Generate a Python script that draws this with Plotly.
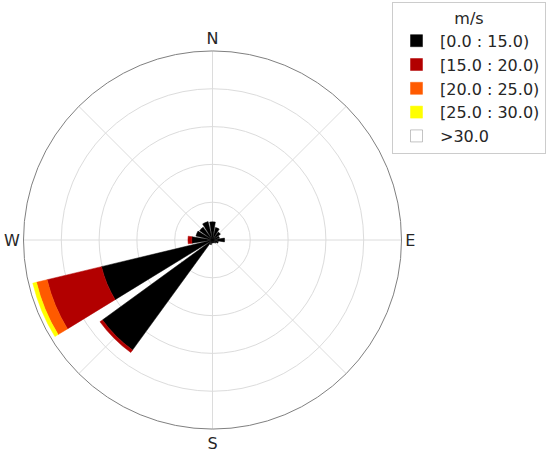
import plotly.graph_objects as go

directions = [0, 22.5, 45, 67.5, 90, 112.5, 135, 157.5, 180, 202.5, 225, 247.5, 270, 292.5, 315, 337.5]
bins = ["[0.0 : 15.0)", "[15.0 : 20.0)", "[20.0 : 25.0)", "[25.0 : 30.0)", ">30.0"]
freq_0_15 = [4.8, 3.4, 2.6, 1.9, 3.2, 1.6, 1.1, 0.8, 0.8, 1.3, 36.0, 30.2, 5.5, 4.5, 4.2, 5.0]
freq_15_20 = [0, 0, 0, 0, 0, 0, 0, 0, 0, 0, 0.8, 14.8, 1.0, 0, 0, 0]
freq_20_25 = [0, 0, 0, 0, 0, 0, 0, 0, 0, 0, 0, 2.9, 0, 0, 0, 0]
freq_25_30 = [0, 0, 0, 0, 0, 0, 0, 0, 0, 0, 0, 1.0, 0, 0, 0, 0]
freq_30 = [0] * 16
series = [freq_0_15, freq_15_20, freq_20_25, freq_25_30, freq_30]
colors = ["#000000", "#b20000", "#ff5a00", "#ffff00", "#ffffff"]
line_colors = ["#000000", "#b20000", "#ff5a00", "#ffff00", "#888888"]

fig = go.Figure()
for i, (name, vals, c, lc) in enumerate(zip(bins, series, colors, line_colors)):
    fig.add_trace(go.Barpolar(
        r=vals, theta=directions, width=[18] * 16, name=name,
        marker=dict(color=c, line=dict(color=lc, width=0.5)),
    ))

W, H = 550, 452
cx, cy, R = 212.5, 240, 189
fig.update_layout(
    width=W, height=H,
    margin=dict(l=0, r=0, t=0, b=0),
    paper_bgcolor="white",
    font=dict(family="DejaVu Sans", size=16, color="#262626"),
    polar=dict(
        domain=dict(x=[(cx - R) / W, (cx + R) / W], y=[1 - (cy + R) / H, 1 - (cy - R) / H]),
        bgcolor="white",
        barmode="stack",
        angularaxis=dict(
            direction="clockwise", rotation=90,
            tickmode="array",
            tickvals=[0, 45, 90, 135, 180, 225, 270, 315],
            ticktext=["N", "", "E", "", "S", "", "W", ""],
            showline=True, linecolor="#808080", linewidth=1,
            gridcolor="#dcdcdc", gridwidth=1,
            ticks="", tickfont=dict(size=16, color="#262626"),
        ),
        radialaxis=dict(
            range=[0, 50], tickvals=[10, 20, 30, 40],
            showticklabels=False, ticks="", showline=False,
            gridcolor="#dcdcdc", gridwidth=1,
        ),
    ),
    legend=dict(
        x=392 / W, y=1 - 2 / H, xanchor="left", yanchor="top",
        bordercolor="#cccccc", borderwidth=1, bgcolor="white",
        title=dict(text="m/s", side="top center", font=dict(size=16)),
        font=dict(size=16, color="#262626"),
        itemwidth=37, tracegroupgap=0,
    ),
)

fig.write_html("out.html", config={"displayModeBar": False},
               post_script="document.body.style.margin='0';")
